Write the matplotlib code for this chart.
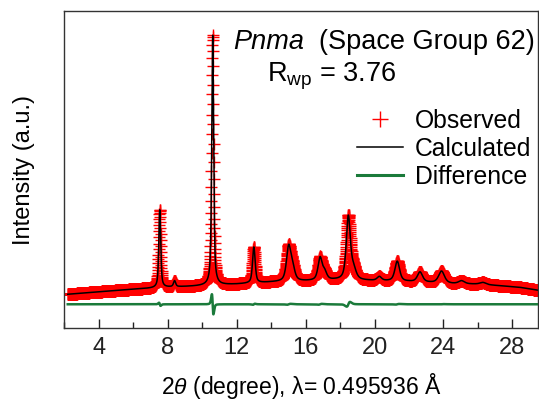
import numpy as np
import matplotlib
matplotlib.use('Agg')
import matplotlib.pyplot as plt
from matplotlib.lines import Line2D

plt.rcParams['font.family'] = ['Liberation Sans', 'DejaVu Sans']
plt.rcParams['mathtext.fontset'] = 'custom'
plt.rcParams['mathtext.rm'] = 'Liberation Sans'
plt.rcParams['mathtext.it'] = 'Liberation Sans:italic'

# ---------------- data ----------------
two_theta_start = 2.2
two_theta_end = 29.5
two_theta_step = 0.008

# Bragg peaks: position (deg), height above background (a.u.), FWHM (deg)
peak_pos    = [7.54, 8.40, 10.61, 13.00, 15.02, 15.25, 16.84, 17.10, 18.48, 18.78, 20.28, 21.32, 22.64, 23.89, 25.05, 26.30]
peak_height = [78,   6,    250,   36,    34,    12,    22,    8,     63,    10,    4,     20,    10,    12,    3,     2]
peak_fwhm   = [0.13, 0.15, 0.13,  0.18,  0.30,  0.30,  0.28,  0.30,  0.28,  0.35,  0.30,  0.32,  0.35,  0.40,  0.40,  0.40]
# small misfit of the observed peak positions (deg)
peak_obs_shift = [-0.002, 0.0, -0.004, 0.002, 0.003, 0.0, 0.004, 0.0, 0.008, 0.0, 0.0, 0.004, 0.0, 0.004, 0.0, 0.0]
peak_eta = 0.6

# background knots
bg_x = [2.2, 4.0, 6.0, 8.0, 9.5, 12.0, 14.0, 16.0, 17.7, 19.7, 22.0, 23.3, 24.5, 26.1, 28.4, 29.5]
bg_y = [34.0, 36.5, 39.0, 41.0, 42.0, 44.0, 46.0, 47.0, 48.0, 47.5, 46.5, 45.5, 44.5, 44.0, 41.0, 38.0]

diff_offset = 24
x_major_ticks = [4, 8, 12, 16, 20, 24, 28]
x_minor_ticks = [2, 6, 10, 14, 18, 22, 26]

# ---------------- build profiles ----------------
tt = np.arange(two_theta_start, two_theta_end + 1e-9, two_theta_step)


def profile(x, shifts):
    y = np.interp(x, bg_x, bg_y)
    for p, h, w, s in zip(peak_pos, peak_height, peak_fwhm, shifts):
        u = (x - (p + s)) / (w / 2.0)
        y = y + h * (peak_eta / (1 + u ** 2) + (1 - peak_eta) * np.exp(-np.log(2) * u ** 2))
    return y


calc = profile(tt, [0.0] * len(peak_pos))
obs = profile(tt, peak_obs_shift)
diff = obs - calc + diff_offset

# ---------------- figure ----------------
W, H = 539, 404
fig = plt.figure(figsize=(W / 100, H / 100), dpi=100)
ax_l, ax_r, ax_t, ax_b = 64.3, 537.7, 11.0, 328.3
ax = fig.add_axes([ax_l / W, 1 - ax_b / H, (ax_r - ax_l) / W, (ax_b - ax_t) / H])

ax.plot(tt, obs, linestyle='none', marker='+', color='#ff0000', ms=9, mew=1.0, zorder=1)
ax.plot(tt, calc, color='black', lw=1.1, zorder=2)
ax.plot(tt, diff, color='#1a7a3a', lw=1.8, zorder=3)

ax.set_xlim(2.22, 29.47)
ax.set_ylim(0, 317)
ax.set_yticks([])
ax.set_xticks(x_major_ticks)
ax.set_xticks(x_minor_ticks, minor=True)
ax.tick_params(axis='x', which='both', direction='in', top=False, labelsize=17, pad=6, colors='#222222')
ax.tick_params(axis='x', which='major', length=6.5, width=1.0)
ax.tick_params(axis='x', which='minor', length=4, width=1.0)
for s in ax.spines.values():
    s.set_linewidth(1.0)
    s.set_color('#333333')

ax.set_xlabel(r'2$\theta$ (degree), λ= 0.495936 Å', fontsize=16.5, labelpad=9)
ax.set_ylabel('Intensity (a.u.)', fontsize=17, labelpad=21)

fig.text(233 / W, 1 - 49 / H, 'Pnma', fontsize=19.5, style='italic', va='baseline', ha='left')
fig.text(535 / W, 1 - 49 / H, '(Space Group 62)', fontsize=19.5, va='baseline', ha='right')
fig.text(267 / W, 1 - 82 / H, r'R$_{\mathrm{wp}}$ = 3.76', fontsize=19.5, va='baseline', ha='left')

handles = [
    Line2D([], [], linestyle='none', marker='+', color='#ff0000', ms=12, mew=1.0),
    Line2D([], [], color='black', lw=1.1),
    Line2D([], [], color='#1a7a3a', lw=2.2),
]
leg = ax.legend(handles, ['Observed', 'Calculated', 'Difference'],
                loc='upper left', bbox_to_anchor=(357 / W, 1 - 109 / H),
                bbox_transform=fig.transFigure, frameon=False, fontsize=17.8,
                borderpad=0, borderaxespad=0, handlelength=1.86,
                handletextpad=0.49, labelspacing=0.16)

fig.savefig('out.png', dpi=100)
